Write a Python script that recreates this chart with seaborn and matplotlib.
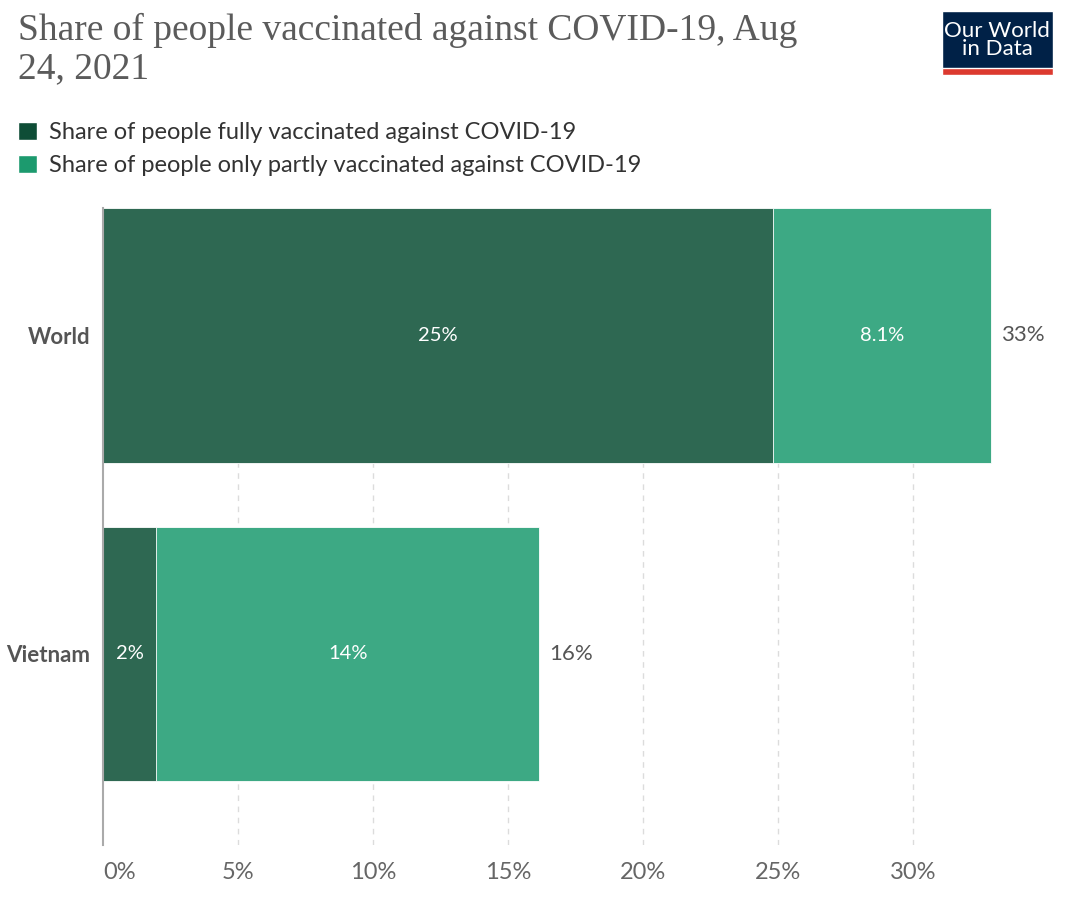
import matplotlib
matplotlib.use("Agg")
import matplotlib.pyplot as plt
from matplotlib.patches import Patch, Rectangle
import pandas as pd
import seaborn as sns

countries = ["World", "Vietnam"]
fully = [24.8, 1.96]
partly = [8.1, 14.2]
xticks = [0, 5, 10, 15, 20, 25, 30]

title = "Share of people vaccinated against COVID-19, Aug\n24, 2021"
label_full = "Share of people fully vaccinated against COVID-19"
label_partly = "Share of people only partly vaccinated against COVID-19"

DARK, LIGHT = "#2e6852", "#3da984"
DARK_KEY, LIGHT_KEY = "#0e4d36", "#1c9a6e"


def fmt(v):
    return f"{v:.2g}%"


df = pd.DataFrame({"country": countries, "fully": fully, "partly": partly})
df["total"] = df["fully"] + df["partly"]

sns.set_style("white")
plt.rcParams["font.family"] = ["Lato", "DejaVu Sans"]

fig = plt.figure(figsize=(10.8, 8.99), dpi=100)
ax = fig.add_axes([103 / 1080, 1 - 845 / 899, (1050 - 103) / 1080, (845 - 208) / 899])

sns.barplot(data=df, x="total", y="country", orient="h", color=LIGHT,
            saturation=1, width=0.8, ax=ax, edgecolor="white", linewidth=0.6)
sns.barplot(data=df, x="fully", y="country", orient="h", color=DARK,
            saturation=1, width=0.8, ax=ax, edgecolor="white", linewidth=0.6)

ax.set_xlim(0, 35.07)
ax.set_ylim(1.6, -0.4)
ax.set_xticks(xticks)
ax.set_xticklabels([f"{t}%" for t in xticks], fontsize=17, color="#666")
ax.get_xticklabels()[0].set_ha("left")
ax.tick_params(axis="x", length=0, pad=12)
ax.tick_params(axis="y", length=0, pad=9)
for lab in ax.get_yticklabels():
    lab.set_fontsize(16); lab.set_fontweight("bold"); lab.set_color("#555")
ax.set_xlabel(""); ax.set_ylabel("")
for t in xticks[1:]:
    ax.axvline(t, color="#dcdcdc", lw=1, ls=(0, (4, 4)), zorder=0)
ax.set_axisbelow(True)
for s in ["top", "right", "bottom"]:
    ax.spines[s].set_visible(False)
ax.spines["left"].set_color("#aaa")
ax.spines["left"].set_linewidth(1.5)

for i, r in df.iterrows():
    ax.text(r["fully"] / 2, i, fmt(r["fully"]), ha="center", va="center",
            color="white", fontsize=14.5)
    ax.text(r["fully"] + r["partly"] / 2, i, fmt(r["partly"]), ha="center",
            va="center", color="white", fontsize=14.5)
    ax.annotate(fmt(r["total"]), (r["total"], i), xytext=(7, 0),
                textcoords="offset points", ha="left", va="center",
                color="#555", fontsize=16)

fig.text(18 / 1080, 1 - 13 / 899, title, ha="left", va="top", fontsize=27,
         color="#5b5b5b", family=["Liberation Serif", "DejaVu Serif"], linespacing=1.15)

handles = [Patch(facecolor=DARK_KEY, label=label_full),
           Patch(facecolor=LIGHT_KEY, label=label_partly)]
leg = fig.legend(handles=handles, loc="upper left", bbox_to_anchor=(18 / 1080, 1 - 122 / 899),
                 frameon=False, fontsize=17, handlelength=0.8, handleheight=0.8,
                 handletextpad=0.5, labelspacing=0.5, borderaxespad=0, borderpad=0)
for t in leg.get_texts():
    t.set_color("#333")

# logo
fig.patches.append(Rectangle((942 / 1080, 1 - 75 / 899), 111 / 1080, 64 / 899,
                             transform=fig.transFigure, facecolor="#002147", zorder=5))
fig.patches.append(Rectangle((942 / 1080, 1 - 75 / 899), 111 / 1080, 7 / 899,
                             transform=fig.transFigure, facecolor="#dc3a2f", zorder=6))
fig.text(997 / 1080, 1 - 40 / 899, "Our World\nin Data", ha="center", va="center",
         color="white", fontsize=16, linespacing=0.9, zorder=7)

fig.savefig("out.png", dpi=100)
